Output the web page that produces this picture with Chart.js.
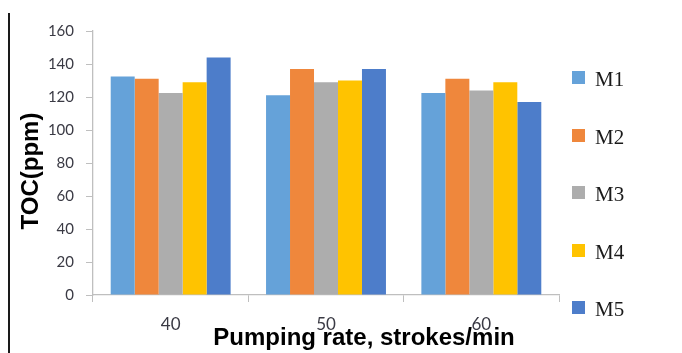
<!DOCTYPE html>
<html>
<head>
<meta charset="utf-8">
<script src="https://cdn.jsdelivr.net/npm/chart.js@4/dist/chart.umd.min.js"></script>
<style>
  html, body { margin: 0; padding: 0; background: #fff; }
  #wrap { position: relative; width: 682px; height: 353px; overflow: hidden; }
  #frameLine { position: absolute; left: 8px; top: 13px; bottom: 0; width: 2px; background: #1a1a1a; }
  #legend { position: absolute; left: 572px; top: 67px; }
  .item { display: flex; align-items: center; height: 21px; margin-bottom: 36.5px; }
  .box { width: 13px; height: 13px; margin-right: 10px; }
  .txt { font: 21px/21px "Liberation Serif", "Times New Roman", serif; color: #1a1a1a; position: relative; top: 2px; }
</style>
</head>
<body>
<div id="wrap">
  <canvas id="chart" width="682" height="353"></canvas>
  <div id="frameLine"></div>
  <div id="legend"></div>
</div>
<script>
const CATEGORIES = ['40', '50', '60'];
const SERIES_NAMES = ['M1', 'M2', 'M3', 'M4', 'M5'];
const M1 = [132.5, 121, 122.5];
const M2 = [131, 137, 131];
const M3 = [122.5, 129, 124];
const M4 = [129, 130, 129];
const M5 = [144, 137, 117];
const SERIES_COLORS = ['#65a2d9', '#ef873c', '#adadad', '#ffc300', '#4d7dca'];
const X_TITLE = 'Pumping rate, strokes/min';
const Y_TITLE = 'TOC(ppm)';

const TICK_COLOR = '#3a3a44';
const AXIS_COLOR = '#bfbfbf';

const seriesValues = [M1, M2, M3, M4, M5];
const datasets = SERIES_NAMES.map((name, i) => ({
  label: name,
  data: seriesValues[i],
  backgroundColor: SERIES_COLORS[i],
  borderWidth: 0,
  categoryPercentage: 0.772,
  barPercentage: 1
}));

// axis titles, drawn off the chart area so they can sit where the original has them
const axisTitles = {
  id: 'axisTitles',
  afterDraw(chart) {
    const { ctx, chartArea } = chart;
    ctx.save();
    ctx.fillStyle = '#000';
    ctx.textAlign = 'center';
    ctx.textBaseline = 'middle';
    ctx.font = 'bold 24px "Liberation Sans", Arial, sans-serif';
    ctx.fillText(X_TITLE, (chartArea.left + chartArea.right) / 2 + 38, 338);
    ctx.translate(31, (chartArea.top + chartArea.bottom) / 2 + 8);
    ctx.rotate(-Math.PI / 2);
    ctx.fillText(Y_TITLE, 0, 0);
    ctx.restore();
  }
};

new Chart(document.getElementById('chart'), {
  type: 'bar',
  data: { labels: CATEGORIES, datasets },
  options: {
    responsive: false,
    animation: false,
    layout: { padding: { left: 0, right: 123, top: 31, bottom: 0 } },
    scales: {
      x: {
        grid: { drawOnChartArea: false, color: AXIS_COLOR, tickLength: 7, offset: true },
        border: { color: AXIS_COLOR, width: 1.3 },
        ticks: { color: TICK_COLOR, font: { family: 'Lato', size: 17 }, padding: 12 },
        afterFit: s => { s.height = 58; }
      },
      y: {
        min: 0,
        max: 160,
        grid: { drawOnChartArea: false, color: AXIS_COLOR, tickLength: 7 },
        border: { color: AXIS_COLOR, width: 1.3 },
        ticks: { stepSize: 20, color: TICK_COLOR, font: { family: 'Lato', size: 15 }, padding: 12 },
        afterFit: s => { s.width = 93; }
      }
    },
    plugins: {
      legend: { display: false },
      tooltip: { enabled: false }
    }
  },
  plugins: [axisTitles]
});

const legendEl = document.getElementById('legend');
datasets.forEach(ds => {
  const item = document.createElement('div');
  item.className = 'item';
  item.innerHTML = '<span class="box" style="background:' + ds.backgroundColor + '"></span>' +
    '<span class="txt">' + ds.label + '</span>';
  legendEl.appendChild(item);
});
</script>
</body>
</html>
